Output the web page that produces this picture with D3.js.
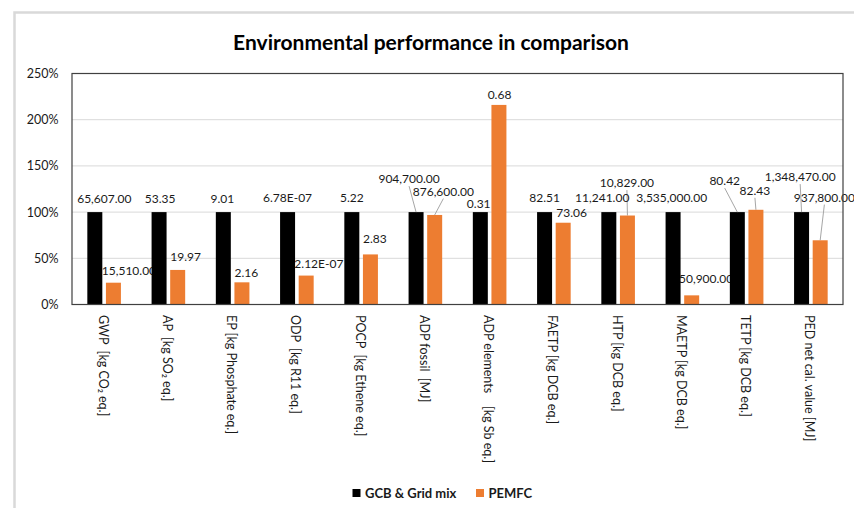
<!DOCTYPE html>
<html>
<head>
<meta charset="utf-8">
<script src="https://cdn.jsdelivr.net/npm/d3@7"></script>
<style>
  body { margin: 0; background: #fff; }
  text { font-family: Lato, "Open Sans", sans-serif; }
</style>
</head>
<body>
<div class="chart"></div>
<script>
const width = 854;
const height = 508;

const categories = [
  "GWP  [kg CO\u2082 eq.]", "AP  [kg SO\u2082 eq.]", "EP [kg Phosphate eq.]",
  "ODP  [kg R11 eq.]", "POCP  [kg Ethene eq.]", "ADP fossil  [MJ]",
  "ADP elements    [kg Sb eq.]", "FAETP [kg DCB eq.]", "HTP [kg DCB eq.]",
  "MAETP [kg DCB eq.]", "TETP [kg DCB eq.]", "PED net cal. value [MJ]"
];
const seriesNames = ["GCB & Grid mix", "PEMFC"];
const seriesColors = ["#000000", "#ed7d31"];

// bar heights, share of the GCB reference (1 = 100%)
const gcbShare = [1, 1, 1, 1, 1, 1, 1, 1, 1, 1, 1, 1];
const pemfcShare = [0.236, 0.374, 0.24, 0.313, 0.542, 0.969, 2.16, 0.885, 0.963, 0.099, 1.025, 0.695];

// data label texts
const gcbLabels = ["65,607.00", "53.35", "9.01", "6.78E-07", "5.22", "904,700.00",
  "0.31", "82.51", "11,241.00", "3,535,000.00", "80.42", "1,348,470.00"];
const pemfcLabels = ["15,510.00", "19.97", "2.16", "2.12E-07", "2.83", "876,600.00",
  "0.68", "73.06", "10,829.00", "350,900.00", "82.43", "937,800.00"];

const yTicks = [0, 0.5, 1, 1.5, 2, 2.5];

// label nudges [dx, dy, leader line]
const gcbNudge = [[9.5, 0, 0], [1, 0, 0], [-1, 0, 0], [0, -1.3, 0], [0, -1, 0], [-7, -20, 1],
  [-1.6, 5, 0], [0, -1.3, 0], [-6.6, -1.3, 0], [-1.4, -1.3, 0], [-12.6, -18, 1], [-1.4, -22, 1]];
const pemfcNudge = [[15.5, 0.7, 0], [8, 0, 0], [4.5, 3, 0], [12.7, 1, 0], [4.5, -3, 0], [8.7, -10.4, 1],
  [0.6, 2.7, 0], [8.4, 3, 0], [-0.5, -19.4, 1], [11, -3.7, 0], [-1, -6, 1], [4.2, -29.7, 1]];

const margin = { top: 73.5, right: 11, bottom: 203, left: 72 };

const svg = d3.select(".chart").append("svg")
  .attr("width", width)
  .attr("height", height);

// outer chart frame
svg.append("rect")
  .attr("x", 14.5).attr("y", 12.5)
  .attr("width", 860).attr("height", 520)
  .attr("fill", "none")
  .attr("stroke", "#d9d9d9")
  .attr("stroke-width", 2.5);

svg.append("text")
  .attr("x", 431).attr("y", 50)
  .attr("text-anchor", "middle")
  .style("font-size", "21px")
  .style("font-weight", "bold")
  .attr("fill", "#000")
  .text("Environmental performance in comparison");

const x0 = d3.scaleBand()
  .domain(categories)
  .range([margin.left, width - margin.right]);

const x1 = d3.scaleBand()
  .domain(seriesNames)
  .range([0, x0.bandwidth()])
  .paddingInner(0.194)
  .paddingOuter(0.824);

const y = d3.scaleLinear()
  .domain([0, 2.5])
  .range([height - margin.bottom - 0.5, margin.top]);

// gridlines
svg.append("g")
  .selectAll("line")
  .data(yTicks.slice(1))
  .join("line")
  .attr("x1", margin.left).attr("x2", width - margin.right)
  .attr("y1", d => y(d)).attr("y2", d => y(d))
  .attr("stroke", "#d9d9d9")
  .attr("stroke-width", 1);

// y axis labels
svg.append("g")
  .selectAll("text")
  .data(yTicks)
  .join("text")
  .attr("x", 58.5)
  .attr("y", d => y(d) + 4.5)
  .attr("text-anchor", "end")
  .style("font-size", "12.5px")
  .attr("fill", "#1a1a1a")
  .text(d => d3.format(".0%")(d));

const rows = categories.map((c, i) => ({
  cat: c,
  values: [
    { s: seriesNames[0], v: gcbShare[i], label: gcbLabels[i], nudge: gcbNudge[i] },
    { s: seriesNames[1], v: pemfcShare[i], label: pemfcLabels[i], nudge: pemfcNudge[i] }
  ]
}));

function labelPos(row, d) {
  const cx = x0(row.cat) + x1(d.s) + x1.bandwidth() / 2;
  return { cx: cx, top: y(d.v), lx: cx + d.nudge[0], ly: y(d.v) - 13 + d.nudge[1] };
}

// orange labels sit under the bars, black labels over them
const labelLayer = svg.append("g");
const barLayer = svg.append("g");
const topLabelLayer = svg.append("g");

rows.forEach(row => {
  row.values.forEach((d, k) => {
    const p = labelPos(row, d);
    const layer = k === 0 ? topLabelLayer : labelLayer;
    if (d.nudge[2]) {
      layer.append("line")
        .attr("x1", p.lx).attr("y1", p.ly + 7)
        .attr("x2", p.cx).attr("y2", p.top)
        .attr("stroke", "#a6a6a6")
        .attr("stroke-width", 1);
    }
    layer.append("text")
      .attr("x", p.lx)
      .attr("y", p.ly + 4.3)
      .attr("text-anchor", "middle")
      .style("font-size", "12px")
      .attr("fill", "#1a1a1a")
      .text(d.label);
  });
});

barLayer.selectAll("g")
  .data(rows)
  .join("g")
  .attr("transform", d => `translate(${x0(d.cat)},0)`)
  .selectAll("rect")
  .data(d => d.values)
  .join("rect")
  .attr("x", d => x1(d.s))
  .attr("width", x1.bandwidth())
  .attr("y", d => y(d.v))
  .attr("height", d => y(0) - y(d.v))
  .attr("fill", (d, i) => seriesColors[i]);

// plot frame
svg.append("rect")
  .attr("x", margin.left).attr("y", margin.top)
  .attr("width", width - margin.right - margin.left)
  .attr("height", y(0) - margin.top)
  .attr("fill", "none")
  .attr("stroke", "#404040")
  .attr("stroke-width", 1.2);

// category labels, rotated
svg.append("g")
  .selectAll("text")
  .data(categories)
  .join("text")
  .attr("transform", d => `translate(${x0(d) + x0.bandwidth() / 2 - 5.5},315) rotate(90)`)
  .attr("xml:space", "preserve")
  .style("white-space", "pre")
  .style("font-size", "12.5px")
  .attr("fill", "#1a1a1a")
  .text(d => d);

// legend
const legend = svg.append("g")
  .selectAll("g")
  .data(seriesNames)
  .join("g")
  .attr("transform", (d, i) => `translate(${i === 0 ? 352.5 : 476},489)`);

legend.append("rect")
  .attr("width", 8).attr("height", 8)
  .attr("fill", (d, i) => seriesColors[i]);

legend.append("text")
  .attr("x", 12.5).attr("y", 8.5)
  .style("font-size", "13px")
  .style("font-weight", "bold")
  .attr("fill", "#1a1a1a")
  .text(d => d);
</script>
</body>
</html>
